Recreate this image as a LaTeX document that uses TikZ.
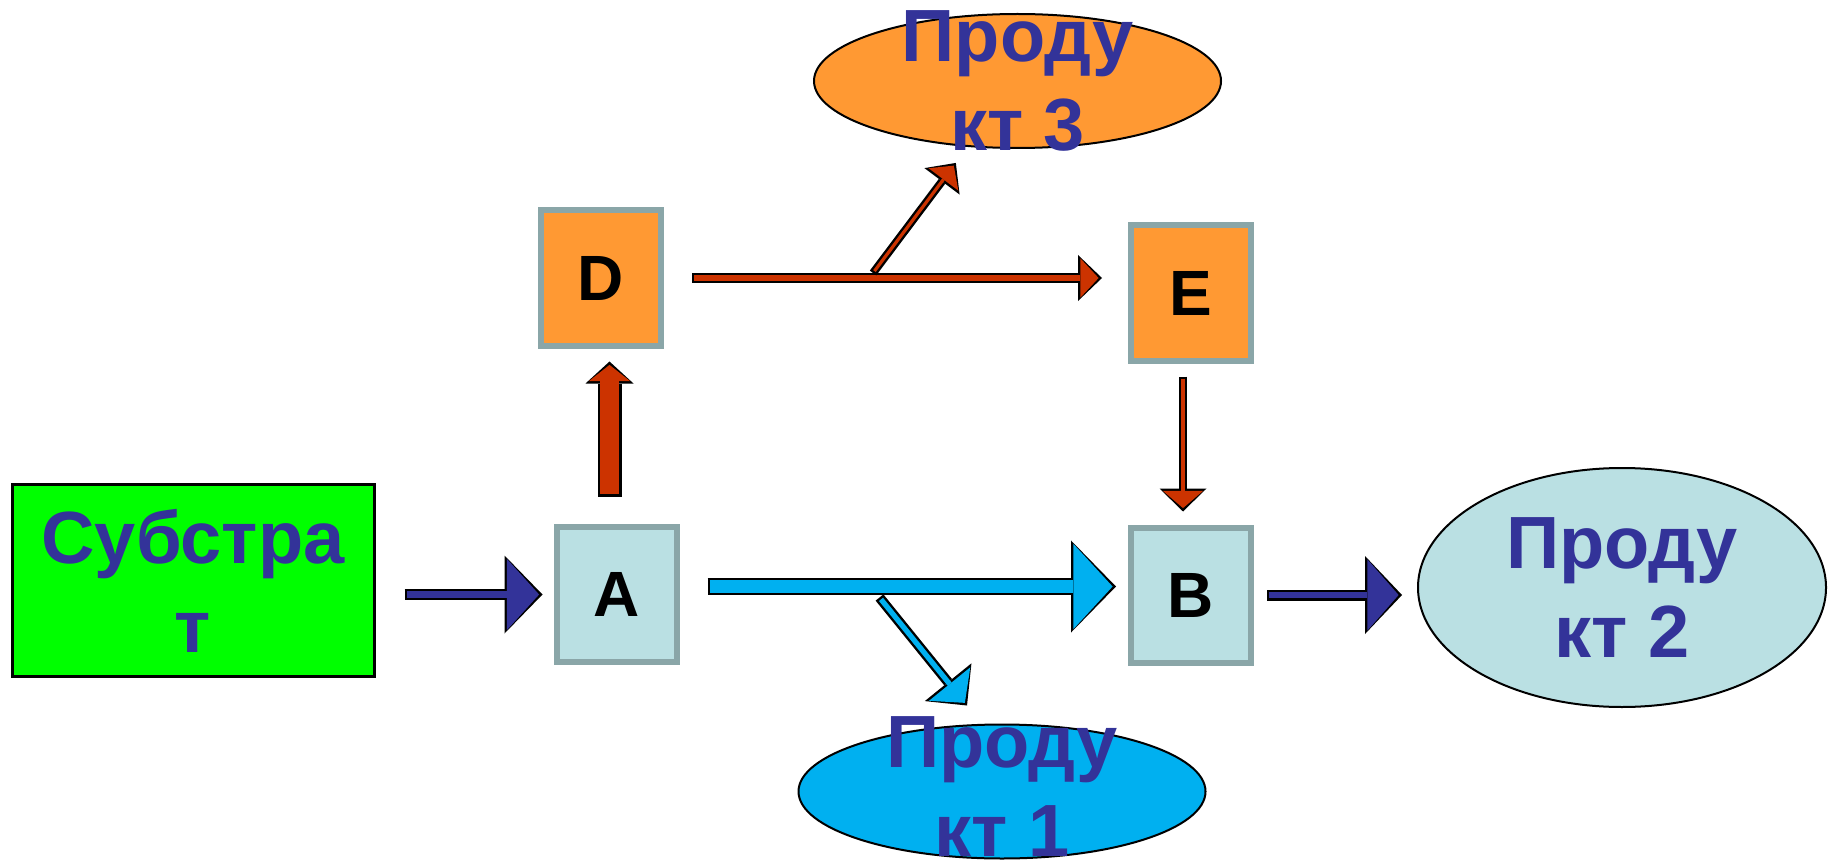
\documentclass[tikz,border=0pt]{standalone}
\usepackage{fontspec}
\setmainfont{Liberation Sans}
\usetikzlibrary{arrows.meta,calc,shapes.geometric}

\definecolor{navy}{HTML}{333399}
\definecolor{subgreen}{HTML}{00FF00}
\definecolor{palecyan}{HTML}{BAE0E3}
\definecolor{boxedge}{HTML}{8AA6A8}
\definecolor{orangefill}{HTML}{FF9933}
\definecolor{rust}{HTML}{CC3300}
\definecolor{skyblue}{HTML}{00B0F0}

\tikzset{
	interm/.style={draw=boxedge,line width=3pt,minimum width=60pt,minimum height=67.5pt,inner sep=0pt,font=\fontsize{32}{38}\selectfont\bfseries},
	prod/.style={ellipse,draw=black,line width=1pt,inner sep=0pt,minimum width=203.5pt,minimum height=67pt},
	prodtext/.style={text=navy,align=center,inner sep=0pt,font=\fontsize{37}{44.5}\selectfont\bfseries},
	% block arrow: colour, shaft, head length, head width, gap at start, gap at end (outer sizes, pt)
	blockarrow/.code n args={6}{%
		\pgfmathsetmacro\inshaft{#2-2.4}%
		\pgfmathsetmacro\inlen{#3-2.9}%
		\pgfmathsetmacro\inwid{#4-3.4}%
		\pgfmathsetmacro\ings{#5+1.2}%
		\pgfmathsetmacro\inge{#6+1.7}%
		\edef\blkopts{draw=#1,line width=\inshaft pt,shorten <=\ings pt,shorten >=\inge pt,
			-{Triangle[length=\inlen pt,width=\inwid pt,line width=0pt]},
			preaction={draw=black,line width=#2pt,shorten <=#5pt,shorten >=#6pt,
				-{Triangle[length=#3pt,width=#4pt,line width=0pt]}}}%
		\expandafter\tikzset\expandafter{\blkopts}}
}

\begin{document}
\begin{tikzpicture}[x=0.5pt,y=-0.5pt]
	\useasboundingbox (0,0) rectangle (1835,866);

	% substrate
	\node[draw=black,fill=subgreen,line width=1.5pt,minimum width=181pt,minimum height=96pt,prodtext] (sub) at (193,580.5) {Субстра\\т};

	% intermediates
	\node[interm,fill=palecyan] (A) at (616.5,594.5) {A};
	\node[interm,fill=palecyan] (B) at (1191,595) {B};
	\node[interm,fill=orangefill] (D) at (601,278) {D};
	\node[interm,fill=orangefill] (E) at (1191,293) {E};

	% products
	\node[prod,fill=orangefill] (p3) at (1017.5,81) {};
	\node[prod,fill=skyblue] (p1) at (1002,791.5) {};
	\node[prod,fill=palecyan,minimum width=204pt,minimum height=119.5pt] (p2) at (1622,587.5) {};
	\node[prodtext] (p3text) at (p3) {Проду\\кт 3};
	\node[prodtext] (p1text) at ($(p1)+(0,-5)$) {Проду\\кт 1};
	\node[prodtext] (p2text) at (p2) {Проду\\кт 2};

	% helper points
	\coordinate (aright) at ($(A.east)+(0,-8)$);
	\coordinate (aup) at ($(A.north)+(-7,0)$);
	\coordinate (edown) at ($(E.south)+(-8,0)$);
	\coordinate (j3) at ($(D.east)+(209,-5)$);
	\coordinate (j1) at ($(A.east)+(200,3)$);
	\coordinate (t1) at ($(p1.north)+(-35,-18)$);

	% main arrows
	\draw[blockarrow={navy}{5.5}{19}{39}{14.5}{5.5}] (sub.east |- A.west) -- (A.west);
	\draw[blockarrow={skyblue}{8.5}{22.5}{46}{14}{6}] (aright) -- (aright -| B.west);
	\draw[blockarrow={rust}{12}{11}{24}{13.75}{6.5}] (aup) -- (aup |- D.south);
	\draw[blockarrow={rust}{5}{12}{23}{14}{13}] (D.east) -- (D.east -| E.west);
	\draw[blockarrow={rust}{4}{11.5}{23.5}{6.5}{6.5}] (edown) -- (edown |- B.north);
	\draw[blockarrow={navy}{5.5}{18.5}{39}{6.5}{7.5}] (B.east) -- (B.east -| p2.west);

	% side branches
	\draw[blockarrow={rust}{4}{11.5}{22}{0}{10}] (j3) -- (p3);
	\draw[blockarrow={skyblue}{5}{15}{30}{0}{0}] (j1) -- (t1);
\end{tikzpicture}
\end{document}
